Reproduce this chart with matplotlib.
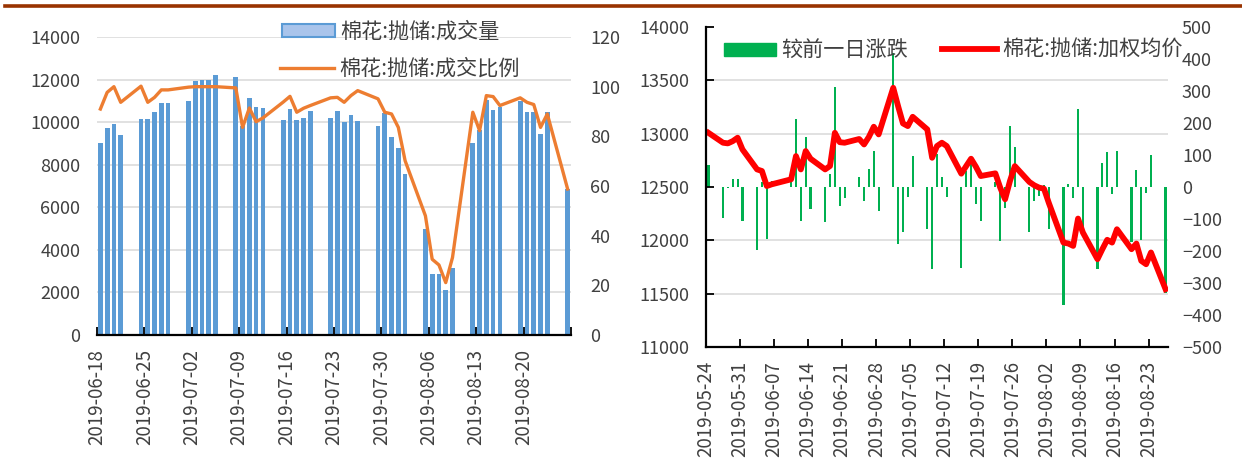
import numpy as np
import matplotlib
matplotlib.use('Agg')
import matplotlib.pyplot as plt
from matplotlib.patches import Patch
from matplotlib.lines import Line2D

plt.rcParams['font.family'] = ['Noto Sans CJK SC', 'DejaVu Sans']

# ---- left panel: auction volume (t) and fill ratio (%) ----
vol_dates = ['06-18', '06-19', '06-20', '06-21',
             '06-24', '06-25', '06-26', '06-27', '06-28',
             '07-01', '07-02', '07-03', '07-04', '07-05',
             '07-08', '07-09', '07-10', '07-11', '07-12',
             '07-15', '07-16', '07-17', '07-18', '07-19',
             '07-22', '07-23', '07-24', '07-25', '07-26',
             '07-29', '07-30', '07-31', '08-01', '08-02',
             '08-05', '08-06', '08-07', '08-08', '08-09',
             '08-12', '08-13', '08-14', '08-15', '08-16',
             '08-19', '08-20', '08-21', '08-22', '08-23',
             '08-26']
volume = [9020, 9740, 9930, 9380,
          10165, 10165, 10460, 10890, 10890,
          11010, 11920, 11985, 11985, 12220,
          12110, 9800, 11140, 10730, 10670,
          10120, 10600, 10120, 10180, 10540,
          10180, 10540, 9990, 10350, 10040,
          9800, 10420, 9320, 8780, 7560,
          4970, 2850, 2850, 2120, 3140,
          9020, 9650, 11040, 10590, 10700,
          11010, 10460, 10460, 9440, 10460,
          6850]
fill_ratio = [91.0, 97.7, 100.0, 93.7,
              100.2, 93.7, 95.7, 98.7, 98.7,
              99.8, 100.0, 100.0, 100.0, 100.0,
              99.5, 83.6, 91.4, 85.9, 87.4,
              93.8, 96.1, 89.7, 91.3, 92.4,
              95.5, 95.7, 93.7, 96.4, 98.4,
              95.1, 89.7, 89.0, 83.6, 70.2,
              48.0, 30.5, 28.2, 21.1, 31.2,
              89.7, 82.3, 96.4, 96.0, 92.4,
              95.5, 93.7, 92.8, 83.6, 89.0,
              58.8]
vol_ticks = ['06-18', '06-25', '07-02', '07-09', '07-16',
             '07-23', '07-30', '08-06', '08-13', '08-20', '08-27']

# ---- right panel: weighted average price and daily change ----
px_dates = ['05-24', '05-27', '05-28', '05-29', '05-30', '05-31',
            '06-03', '06-04', '06-05', '06-06',
            '06-10', '06-11', '06-12', '06-13', '06-14',
            '06-17', '06-18', '06-19', '06-20', '06-21',
            '06-24', '06-25', '06-26', '06-27', '06-28',
            '07-01', '07-02', '07-03', '07-04', '07-05',
            '07-08', '07-09', '07-10', '07-11', '07-12',
            '07-15', '07-16', '07-17', '07-18', '07-19',
            '07-22', '07-23', '07-24', '07-25', '07-26',
            '07-29', '07-30', '07-31', '08-01', '08-02',
            '08-05', '08-06', '08-07', '08-08', '08-09',
            '08-12', '08-13', '08-14', '08-15', '08-16',
            '08-19', '08-20', '08-21', '08-22', '08-23',
            '08-26']
avg_price = [13008, 12915, 12909, 12930, 12962, 12852,
             12665, 12650, 12509, 12525,
             12572, 12790, 12665, 12837, 12765,
             12665, 12697, 13008, 12920, 12915,
             12950, 12899, 12970, 13065, 12993,
             13430, 13258, 13096, 13071, 13158,
             13040, 12774, 12884, 12915, 12884,
             12625, 12696, 12765, 12690, 12603,
             12628, 12494, 12385, 12556, 12696,
             12547, 12516, 12494, 12484, 12350,
             11979, 11970, 11948, 12204, 12073,
             11823, 11917, 12005, 11979, 12104,
             11917, 11970, 11808, 11776, 11886,
             11542]
day_change = [69, -96, -2, 24, 24, -106,
              -198, 16, -163, 19,
              16, 213, -106, 157, -68,
              -109, 40, 312, -59, -35,
              31, -44, 55, 112, -75,
              420, -179, -142, -30, 97,
              -132, -257, 102, 32, -30,
              -252, 50, 72, -54, -106,
              16, -168, -66, 192, 124,
              -140, -43, -29, 5, -130,
              -369, 8, -35, 244, -150,
              -255, 76, 109, -23, 112,
              -172, 52, -166, -18, 100,
              -330]
px_ticks = ['05-24', '05-31', '06-07', '06-14', '06-21', '06-28', '07-05',
            '07-12', '07-19', '07-26', '08-02', '08-09', '08-16', '08-23']

TXT = '#404040'
GRID = '#D9D9D9'


def day_offset(md, start):
    d = np.array(['2019-' + s for s in md], dtype='datetime64[D]')
    return (d - np.datetime64('2019-' + start)).astype(int)


W, H = 1242, 463
fig = plt.figure(figsize=(W / 100, H / 100), dpi=100)

# ================= left panel =================
axL = fig.add_axes([97 / W, 1 - 335 / H, (571 - 97) / W, (335 - 37) / H])
xl = day_offset(vol_dates, '06-18') + 0.5
axL.bar(xl, volume, width=0.7, color='#5B9BD5', zorder=2)
axL.set_xlim(0, 70)
axL.set_ylim(0, 14000)
axL.set_yticks(np.arange(0, 14001, 2000))
axL.yaxis.grid(True, color=GRID, lw=1.1)
axL.set_axisbelow(True)
for s in ('left', 'right', 'top'):
    axL.spines[s].set_visible(False)
axL.spines['bottom'].set_linewidth(1.6)
tl = day_offset(vol_ticks, '06-18')
axL.set_xticks(tl)
axL.set_xticklabels(['2019-' + t for t in vol_ticks[:-1]] + [''], rotation=90)
axL.tick_params(axis='x', direction='in', length=6, width=1.3, pad=10,
                labelsize=13.5, labelcolor=TXT)
axL.tick_params(axis='y', length=0, pad=12, labelsize=13, labelcolor=TXT)

axL2 = axL.twinx()
axL2.plot(xl, fill_ratio, color='#ED7D31', lw=2.4, zorder=3)
axL2.set_ylim(0, 120)
axL2.set_yticks(np.arange(0, 121, 20))
for s in axL2.spines.values():
    s.set_visible(False)
axL2.tick_params(axis='y', length=0, pad=14, labelsize=13, labelcolor=TXT)

# ================= right panel =================
axR = fig.add_axes([706 / W, 1 - 347 / H, (1168 - 706) / W, (347 - 27) / H])
axB = axR.twinx()
axR.set_zorder(axB.get_zorder() + 1)
axR.patch.set_visible(False)

xr = day_offset(px_dates, '05-24') + 0.5
axB.bar(xr, day_change, width=0.45, color='#00B050', zorder=2)
axB.set_ylim(-500, 500)
axB.set_yticks(np.arange(-500, 501, 100))
# grid follows the price axis (every 500 yuan)
axB.set_yticks(np.linspace(-500, 500, 7), minor=True)
axB.yaxis.grid(True, which='minor', color=GRID, lw=1.1)
axB.set_axisbelow(True)
for s in axB.spines.values():
    s.set_visible(False)
axB.tick_params(axis='y', which='both', length=0, pad=10, labelsize=13,
                labelcolor=TXT)

axR.plot(xr, avg_price, color='#FF0000', lw=4.2, solid_joinstyle='round')
axR.set_xlim(0, 95)
axR.set_ylim(11000, 14000)
axR.set_yticks(np.arange(11000, 14001, 500))
for s in ('right', 'top'):
    axR.spines[s].set_visible(False)
for s in ('left', 'bottom'):
    axR.spines[s].set_linewidth(1.6)
tr = day_offset(px_ticks, '05-24')
axR.set_xticks(tr)
axR.set_xticklabels(['2019-' + t for t in px_ticks], rotation=90)
axR.tick_params(axis='x', direction='in', length=6, width=1.3, pad=10,
                labelsize=13.5, labelcolor=TXT)
axR.tick_params(axis='y', direction='in', length=6, width=1.3, pad=12,
                labelsize=13, labelcolor=TXT)

# ================= legends =================
fs = 15.2
fpx = fs * 100 / 72


def put_legend(handle, label, x_px, y_px, width_px, height_px=None):
    kw = dict(handlelength=width_px / fpx, handletextpad=5 / fpx)
    if height_px is not None:
        kw['handleheight'] = height_px / fpx
    leg = fig.legend([handle], [label], loc='center left',
                     bbox_to_anchor=(x_px / W, 1 - y_px / H),
                     frameon=False, borderpad=0, borderaxespad=0,
                     fontsize=fs, labelcolor=TXT, **kw)
    return leg


put_legend(Patch(facecolor='#A9C4EB', edgecolor='#5B9BD5', lw=1.5),
           '棉花:抛储:成交量', 282, 32, 53, 11)
put_legend(Line2D([], [], color='#ED7D31', lw=2.4),
           '棉花:抛储:成交比例', 280, 69, 54)
put_legend(Patch(facecolor='#00B050', edgecolor='#00B050'),
           '较前一日涨跌', 724, 51, 52, 12)
put_legend(Line2D([], [], color='#FF0000', lw=4.2),
           '棉花:抛储:加权均价', 942, 50, 55)

# header rule
fig.add_artist(Line2D([5 / W, 1], [1 - 5.5 / H] * 2, color='#993300', lw=2.6))

fig.savefig('out.png', dpi=100)
